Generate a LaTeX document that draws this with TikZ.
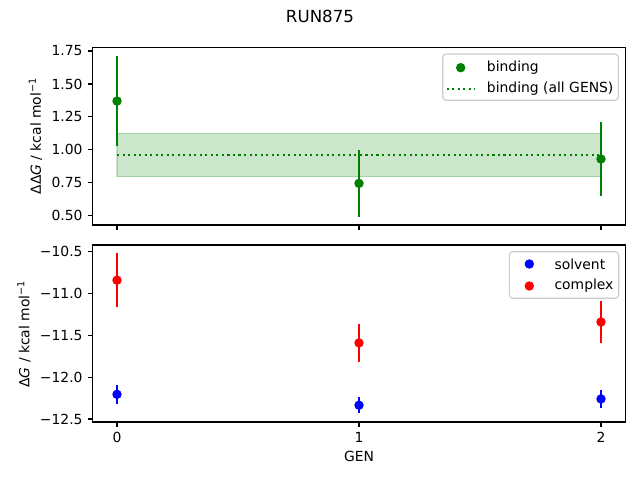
\documentclass[tikz,border=0pt]{standalone}
\usepackage{fontspec}
\setmainfont{DejaVu Sans}
\definecolor{mplgreen}{HTML}{008000}
\definecolor{mplblue}{HTML}{0000FF}
\definecolor{mplred}{HTML}{FF0000}
\definecolor{legedge}{HTML}{CCCCCC}
\tikzset{
  axisline/.style={line width=0.8pt},
  tickmark/.style={line width=0.8pt},
  errbar/.style={line width=1.5pt},
  dotline/.style={line width=1.5pt,dash pattern=on 1.5pt off 2.475pt},
  legbox/.style={draw=legedge,fill=white,fill opacity=0.8,line width=0.8pt,rounded corners=2.5pt},
  ticklab/.style={font=\fontsize{10}{12}\selectfont},
}

\begin{document}
\begin{tikzpicture}[x=0.72pt,y=0.72pt,font=\fontsize{10}{12}\selectfont]
    \pgfmathsetmacro{\xo}{117} % pixel of GEN 0
    \pgfmathsetmacro{\xu}{242*0.72} % one GEN in pt
    \pgfmathsetmacro{\yotop}{198.5} % pixel of ddG=0 (top panel)
    \pgfmathsetmacro{\yutop}{131.7*0.72} % one kcal/mol in pt (top panel)
    \pgfmathsetmacro{\yobot}{1106.6} % pixel of dG=0 (bottom panel)
    \pgfmathsetmacro{\yubot}{83.65*0.72} % one kcal/mol in pt (bottom panel)
    \useasboundingbox (0,0) rectangle (640,480); % figure 640x480

    \node[font=\fontsize{12}{14}\selectfont] (title) at (320,464) {RUN875}; % titolo

    % top panel: binding free energy
    \begin{scope}[shift={(\xo,\yotop)},x=\xu pt,y=\yutop pt]
      \filldraw[mplgreen,fill opacity=0.2,draw opacity=0.2,line width=1pt]
        (0,0.795) rectangle (2,1.125); % band of all GENS
      \draw[mplgreen,dotline] (0,0.96) -- (2,0.96); % binding (all GENS)
      \foreach \g/\v/\e in {0/1.37/0.34,1/0.745/0.253,2/0.93/0.28}{
        \draw[mplgreen,errbar] (\g,\v-\e) -- (\g,\v+\e); % error bar
        \fill[mplgreen] (\g,\v) circle (3.4pt); % point
      }
      \draw[axisline] (-0.1,0.429) rectangle (2.1,1.778); % frame
      \foreach \v/\t in {0.5/0.50,0.75/0.75,1/1.00,1.25/1.25,1.5/1.50,1.75/1.75}
        \draw[tickmark] (-0.1,\v) -- ++(-3.5pt,0) node[left,inner sep=3.5pt,ticklab] {\t};
      \foreach \g in {0,1,2}
        \draw[tickmark] (\g,0.429) -- ++(0,-3.5pt);
    \end{scope}
    \node[rotate=90] (ddglabel) at (35.5,344) {ΔΔ\textit{G} / kcal mol\textsuperscript{−1}};

    % bottom panel: solvent and complex
    \begin{scope}[shift={(\xo,\yobot)},x=\xu pt,y=\yubot pt]
      \foreach \g/\v/\e in {0/-10.84/0.32,1/-11.59/0.225,2/-11.34/0.255}{
        \draw[mplred,errbar] (\g,\v-\e) -- (\g,\v+\e); % complex
        \fill[mplred] (\g,\v) circle (3.4pt);
      }
      \foreach \g/\v/\e in {0/-12.205/0.115,1/-12.335/0.097,2/-12.26/0.105}{
        \draw[mplblue,errbar] (\g,\v-\e) -- (\g,\v+\e); % solvent
        \fill[mplblue] (\g,\v) circle (3.4pt);
      }
      \draw[axisline] (-0.1,-12.536) rectangle (2.1,-10.42); % frame
      \foreach \v/\t in {-10.5/−10.5,-11/−11.0,-11.5/−11.5,-12/−12.0,-12.5/−12.5}
        \draw[tickmark] (-0.1,\v) -- ++(-3.5pt,0) node[left,inner sep=3.5pt,ticklab] {\t};
      \foreach \g in {0,1,2}
        \draw[tickmark] (\g,-12.536) -- ++(0,-3.5pt) node[below,inner sep=3.5pt,ticklab] {\g};
    \end{scope}
    \node[rotate=90] (dglabel) at (24,146) {Δ\textit{G} / kcal mol\textsuperscript{−1}};
    \node (genlabel) at (359,23.3) {GEN}; % asse x

    % legenda in alto
    \draw[legbox] (442.7,379.7) rectangle (618.3,426);
    \fill[mplgreen] (460.7,412.3) circle (3.4pt);
    \node[anchor=west,inner sep=0pt] (bindtxt) at (486.7,412.3) {binding};
    \coordinate (allA) at (446.7,391);
    \coordinate (allB) at (475,391);
    \draw[mplgreen,dotline] (allA) -- (allB);
    \node[anchor=west,inner sep=0pt] (alltxt) at (486.7,391) {binding (all GENS)};

    % legenda in basso
    \draw[legbox] (509.3,181.7) rectangle (618.7,228.3);
    \fill[mplblue] (529.3,216) circle (3.4pt);
    \node[anchor=west,inner sep=0pt] (solvtxt) at (554.3,216) {solvent};
    \fill[mplred] (529.3,194) circle (3.4pt);
    \node[anchor=west,inner sep=0pt] (comptxt) at (554.3,194) {complex};
\end{tikzpicture}
\end{document}
